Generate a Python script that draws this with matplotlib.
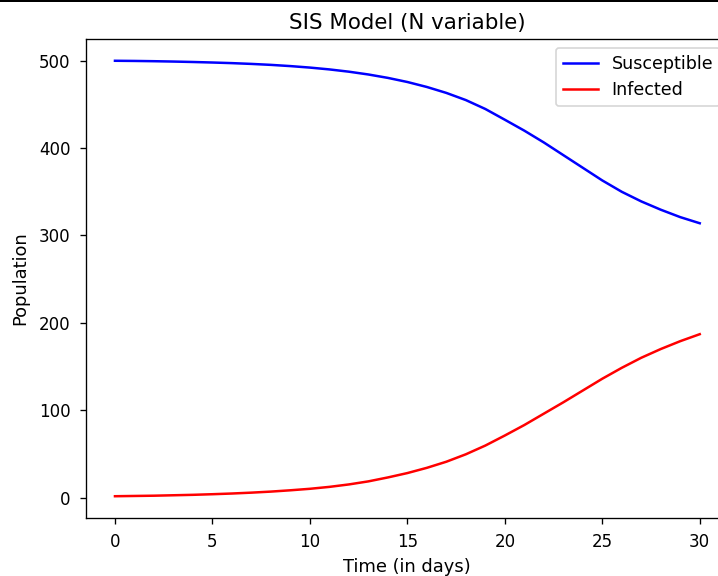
import matplotlib
matplotlib.use("Agg")
import matplotlib.pyplot as plt
from matplotlib.lines import Line2D

# дни и численность групп
days = list(range(31))
susceptible = [500.0, 499.8, 499.5, 499.1, 498.6, 498.0, 497.3, 496.4, 495.3, 493.9,
               492.2, 490.1, 487.5, 484.3, 480.4, 475.7, 470.0, 463.2, 455.0, 444.8,
               432.5, 420.0, 406.5, 392.0, 377.5, 363.0, 350.0, 339.0, 329.5, 321.0,
               314.0]
infected = [1.5, 1.8, 2.1, 2.6, 3.1, 3.8, 4.6, 5.6, 6.8, 8.3,
            10.0, 12.2, 15.0, 18.5, 23.0, 28.0, 34.0, 41.0, 49.5, 59.5,
            71.0, 83.0, 96.0, 109.0, 122.5, 136.0, 148.5, 160.0, 170.0, 179.0,
            187.0]

plt.rcParams["font.size"] = 10
plt.rcParams["xtick.major.pad"] = 5.5
plt.rcParams["ytick.major.pad"] = 5.5

fig = plt.figure(figsize=(718 / 120, 576 / 120), dpi=120)
# оси чуть выходят за правый край, как на обрезанном исходнике
ax = fig.add_axes([0.1194, 0.1007, 0.8959, 0.8316])

ax.plot(days, susceptible, color="blue", label="Susceptible")
ax.plot(days, infected, color="red", label="Infected")

ax.set_title("SIS Model (N variable)", fontsize=12.8)
ax.set_xlabel("Time (in days)", fontsize=10.7)
ax.set_ylabel("Population", fontsize=10.7, labelpad=6)
ax.legend(loc="upper right", fontsize=10.5)

# тёмная полоска сверху, как на скриншоте
fig.add_artist(Line2D([0, 1], [0.999, 0.999], transform=fig.transFigure,
                      color="black", linewidth=1.2))

fig.savefig("out.png", dpi=120)
